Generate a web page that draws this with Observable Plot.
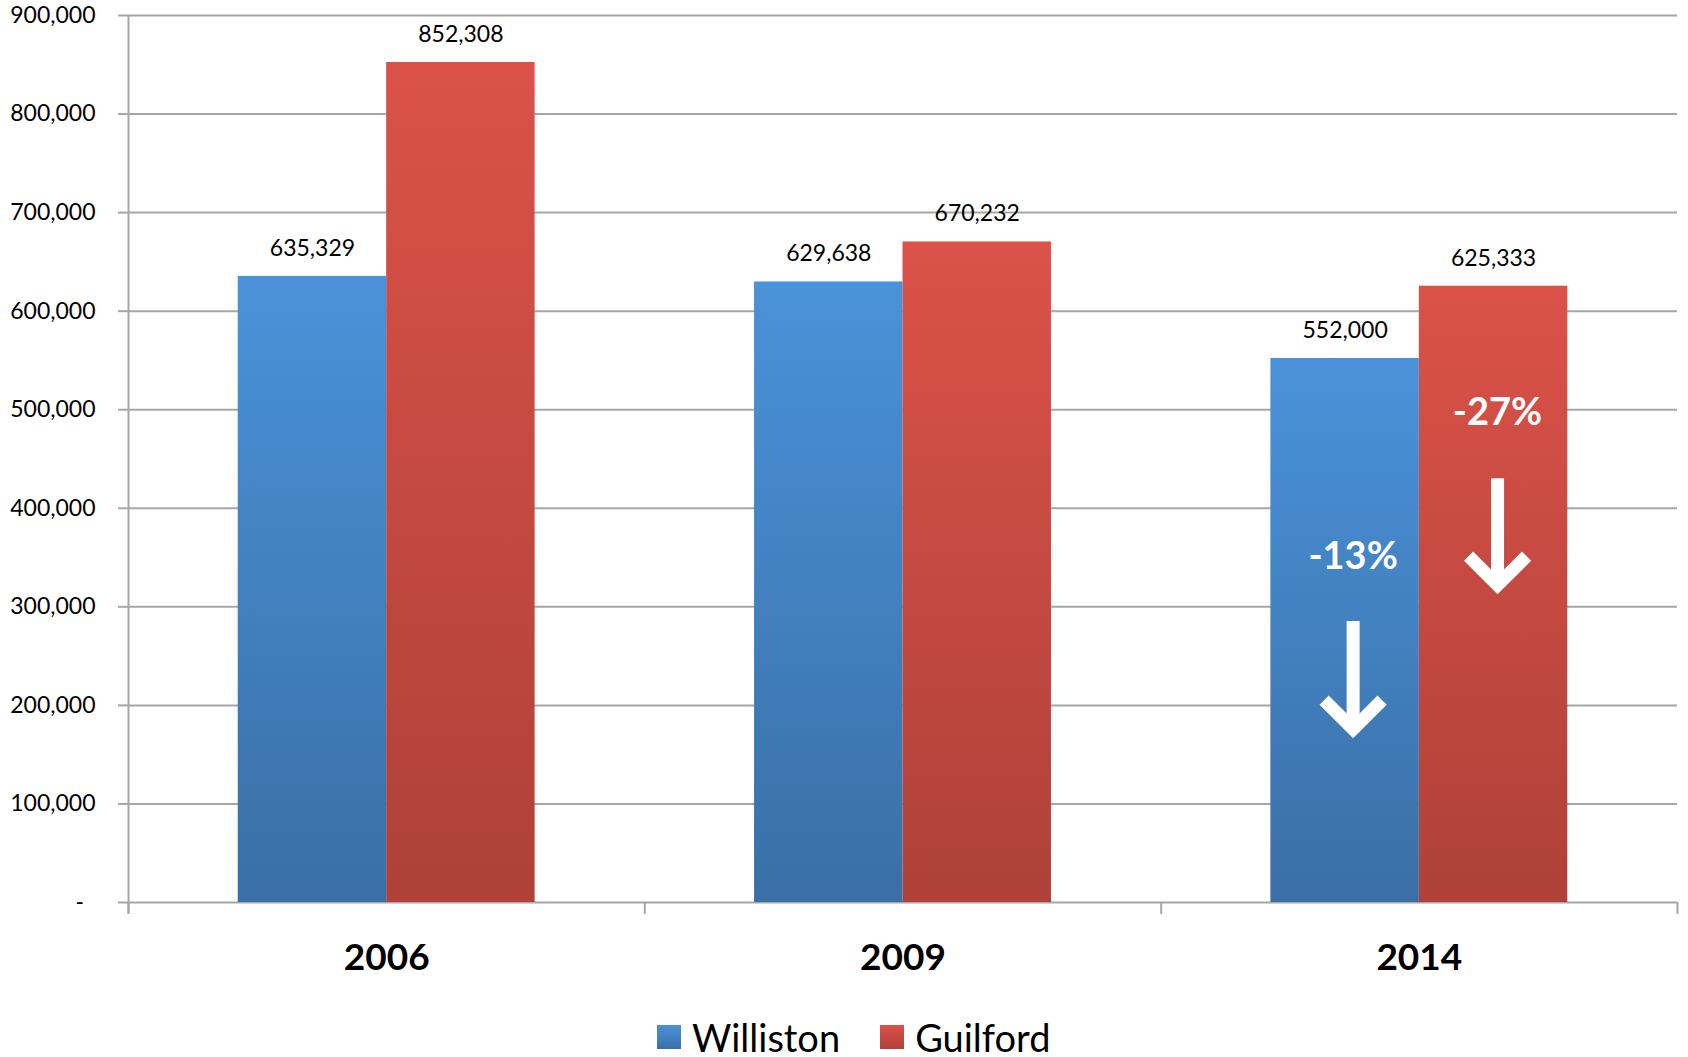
<!DOCTYPE html>
<html>
<head>
<meta charset="utf-8">
<script src="https://cdn.jsdelivr.net/npm/d3@7"></script>
<script src="https://cdn.jsdelivr.net/npm/@observablehq/plot@0.6"></script>
<style>
  html, body { margin: 0; padding: 0; background: #fff; overflow: hidden; }
  #wrap { position: relative; width: 1688px; height: 1057px; font-family: Lato, "Open Sans", sans-serif; }
  #legend { position: absolute; left: 657px; top: 1017px; height: 40px; line-height: 40px; display: flex; align-items: center; font-size: 38px; color: #000; }
  .sw { width: 24px; height: 24px; display: inline-block; margin-right: 11px; }
  .item { display: flex; align-items: center; margin-right: 40px; }
</style>
</head>
<body>
<div id="wrap"><div id="chart"></div><div id="legend"></div></div>
<script>
// ---- data ----
const years = ["2006", "2009", "2014"];
const seriesNames = ["Williston", "Guilford"];
const williston = [635329, 629638, 552000];
const guilford = [852308, 670232, 625333];
const yTicks = [0, 100000, 200000, 300000, 400000, 500000, 600000, 700000, 800000, 900000];
const changeLabels = ["-13%", "-27%"];           // 2014 vs 2006, per series
const changeLabelY = [351000, 497000];           // label heights (data units)
const changeArrowFrom = [285000, 430000];        // arrow start (data units)
const changeArrowTo = [176000, 322000];          // arrow tip (data units)

// ---- layout constants ----
const W = 1688, H = 1000;
const groupPad = 0.2125, barW = 0.2875;
const annotDx = [8, 4];
const colors = {
  Williston: ["#4a92d9", "#3a6fa6"],
  Guilford: ["#db5249", "#ae4139"]
};

const values = {Williston: williston, Guilford: guilford};
const data = years.flatMap((year, i) =>
  seriesNames.map((series, s) => ({year, i, s, series, value: values[series][i]})));
const x1 = d => d.i + groupPad + d.s * barW;
const xc = d => d.i + groupPad + d.s * barW + barW / 2;

const changes = seriesNames.map((series, s) => ({
  i: years.length - 1, s, series,
  label: changeLabels[s], labelY: changeLabelY[s],
  from: changeArrowFrom[s], to: changeArrowTo[s]
}));

const fmt = d3.format(",");

// chevron arrow head symbol (tip at the origin)
const chevron = {
  draw(context, size) {
    const r = Math.sqrt(size / Math.PI);
    context.moveTo(-r, -r);
    context.lineTo(0, 0);
    context.lineTo(r, -r);
  }
};

const annotationMarks = changes.flatMap(c => [
  Plot.text([c], {x: xc, y: "labelY", text: "label", dx: annotDx[c.s], fontSize: 38, fontWeight: "bold", fill: "white"}),
  Plot.ruleX([c], {x: xc, y1: "from", y2: "to", dx: annotDx[c.s], stroke: "white", strokeWidth: 13}),
  Plot.dot([c], {x: xc, y: "to", dx: annotDx[c.s], symbol: chevron, r: 29, fill: "none", stroke: "white",
    strokeWidth: 13, strokeLinejoin: "miter", strokeLinecap: "butt"})
]);

const chart = Plot.plot({
  width: W,
  height: H,
  marginLeft: 128,
  marginRight: 11,
  marginTop: 15,
  marginBottom: 98,
  style: {fontFamily: "Lato, 'Open Sans', sans-serif", background: "white", overflow: "visible"},
  x: {domain: [0, years.length], axis: null},
  y: {domain: [0, 900000], axis: null},
  marks: [
    Plot.ruleY(yTicks, {stroke: "#a6a6a6", strokeWidth: 2}),
    Plot.ruleX([0], {y1: -12000, y2: 900000, stroke: "#a6a6a6", strokeWidth: 2}),
    Plot.ruleX(d3.range(years.length + 1), {y1: -12000, y2: 0, stroke: "#a6a6a6", strokeWidth: 2}),
    Plot.axisY({
      ticks: yTicks,
      tickFormat: d => d === 0 ? "-\u2002" : fmt(d),
      tickSize: 10,
      tickPadding: 23,
      stroke: "#a6a6a6",
      strokeWidth: 2,
      fill: "#000",
      fontSize: 23,
      label: null
    }),
    Plot.rectY(data.filter(d => d.series === "Williston"), {
      x1, x2: d => x1(d) + barW, y1: 0, y2: "value", fill: "url(#gradW)", inset: 0
    }),
    Plot.rectY(data.filter(d => d.series === "Guilford"), {
      x1, x2: d => x1(d) + barW, y1: 0, y2: "value", fill: "url(#gradG)", inset: 0
    }),
    Plot.text(data, {x: xc, y: "value", text: d => fmt(d.value), dy: -28, fontSize: 23, fill: "#000"}),
    Plot.text(years, {x: (d, i) => i + 0.5, y: 0, text: d => d, dy: 56, fontSize: 37, fontWeight: "bold", fill: "#000"}),
    ...annotationMarks
  ]
});

// gradients
const svg = d3.select(chart);
const defs = svg.insert("defs", ":first-child");
[["gradW", colors.Williston], ["gradG", colors.Guilford]].forEach(([id, [top, bot]]) => {
  const g = defs.append("linearGradient").attr("id", id).attr("x1", 0).attr("y1", 0).attr("x2", 0).attr("y2", 1);
  g.append("stop").attr("offset", "0%").attr("stop-color", top);
  g.append("stop").attr("offset", "100%").attr("stop-color", bot);
});
svg.selectAll("rect").filter(function() { return (this.getAttribute("fill") || "").startsWith("url"); })
  .each(function() { this.parentNode.style.filter = "drop-shadow(2px 2px 2px rgba(0,0,0,0.22))"; });

document.getElementById("chart").appendChild(chart);

// legend
const legend = document.getElementById("legend");
seriesNames.forEach(name => {
  const item = document.createElement("div");
  item.className = "item";
  const sw = document.createElement("span");
  sw.className = "sw";
  sw.style.background = `linear-gradient(${colors[name][0]}, ${colors[name][1]})`;
  const t = document.createElement("span");
  t.textContent = name;
  item.appendChild(sw);
  item.appendChild(t);
  legend.appendChild(item);
});
</script>
</body>
</html>
